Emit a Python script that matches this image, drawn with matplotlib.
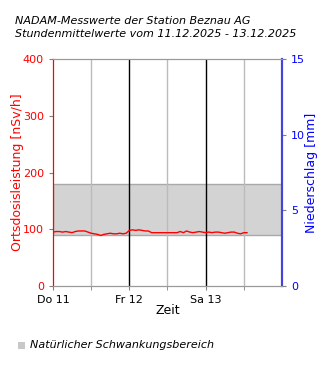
import numpy as np
import matplotlib.pyplot as plt
from matplotlib.patches import Rectangle

# hourly means of the dose rate, from 11.12.2025 00:00 on
dose = [95, 96, 96, 95, 96, 95, 94, 96, 97, 97, 97, 95,
        93, 92, 91, 89, 91, 92, 93, 92, 92, 93, 92, 93,
        98, 99, 98, 99, 98, 97, 97, 94, 94, 94, 94, 94,
        94, 94, 94, 94, 96, 94, 97, 95, 94, 95, 96, 95,
        94, 95, 94, 95, 95, 94, 93, 94, 95, 95, 93, 92, 94, 94]
band_low, band_high = 90, 180
day_labels = ['Do 11', 'Fr 12', 'Sa 13']

hours = np.arange(len(dose))

fig = plt.figure(figsize=(3.3, 3.7), dpi=100)
ax = fig.add_axes([0.1606, 0.227, 0.6939, 0.6135])
ax2 = ax.twinx()

ax.axhspan(band_low, band_high, facecolor='#d3d3d3', edgecolor='#a9a9a9', lw=1, zorder=0)
for h in [12, 36, 60]:
    ax.axvline(h, color='#bbbbbb', lw=1, zorder=1)
for h in [24, 48]:
    ax.axvline(h, color='black', lw=1, zorder=1)
ax.plot(hours, dose, color='red', lw=1, zorder=3)

ax.set_xlim(0, 72)
ax.set_ylim(0, 400)
ax2.set_ylim(0, 15)
ax.set_xticks([0, 24, 48])
ax.set_xticklabels(day_labels)
ax.set_xticks([12, 36, 60], minor=True)
ax.set_yticks([0, 100, 200, 300, 400])
ax2.set_yticks([0, 5, 10, 15])

ax.tick_params(axis='y', colors='red', labelsize=8, length=3)
ax.tick_params(axis='x', labelsize=8, length=3, color='gray')
ax.tick_params(axis='x', which='minor', length=3, color='gray')
ax2.tick_params(axis='y', colors='blue', labelsize=8, length=3)
ax2.tick_params(axis='y', color='gray')
ax.tick_params(axis='y', color='gray')

ax.set_ylabel('Ortsdosisleistung [nSv/h]', color='red', fontsize=9)
ax2.set_ylabel('Niederschlag [mm]', color='blue', fontsize=9)
ax.set_xlabel('Zeit', fontsize=9)
ax.yaxis.set_label_coords(-0.153, 0.5)
ax2.yaxis.set_label_coords(1.131, 0.5)
ax.xaxis.set_label_coords(0.5, -0.11)
ax.yaxis.label.set_va('center')
ax2.yaxis.label.set_va('center')
ax.xaxis.label.set_va('center')

for a in (ax, ax2):
    a.spines['top'].set_color('#999999')
    a.spines['bottom'].set_color('#999999')
    a.spines['left'].set_color('red')
    a.spines['right'].set_color('#4444dd')
    a.spines['right'].set_linewidth(1.5)

fig.text(0.045, 0.943, 'NADAM-Messwerte der Station Beznau AG', fontsize=8,
         style='italic', va='center', ha='left')
fig.text(0.045, 0.908, 'Stundenmittelwerte vom 11.12.2025 - 13.12.2025', fontsize=8,
         style='italic', va='center', ha='left')

fig.patches.append(Rectangle((0.055, 0.058), 0.021, 0.019, transform=fig.transFigure,
                             facecolor='#c8c8c8', edgecolor='none'))
fig.text(0.09, 0.067, 'Natürlicher Schwankungsbereich', fontsize=8,
         style='italic', va='center', ha='left')

fig.savefig('out.png', dpi=100)
